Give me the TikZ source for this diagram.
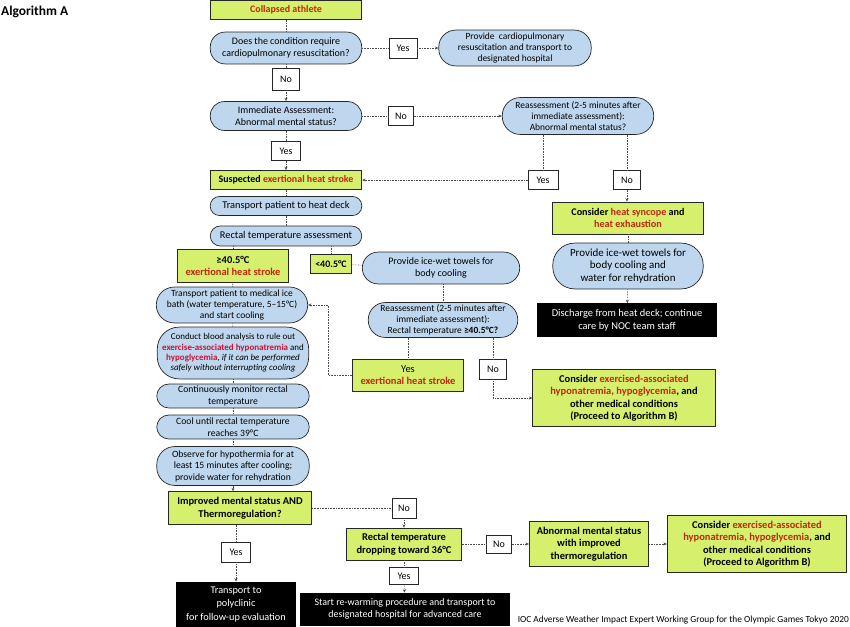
\documentclass[tikz,border=0pt]{standalone}
\usepackage{fontspec}
\setmainfont{Carlito}
\usetikzlibrary{arrows.meta}
\definecolor{limeg}{RGB}{214,240,110}
\definecolor{lblue}{RGB}{190,215,238}
\definecolor{dred}{RGB}{192,40,16}
\definecolor{cred}{RGB}{196,20,56}
\newcommand\fsz[2]{\fontsize{#1}{#2}\selectfont}
\begin{document}
\begin{tikzpicture}[x=1bp,y=-1bp,
 base/.style={draw=black!85, line width=0.7pt, inner sep=0pt, align=center, font=\fsz{10}{12}},
 gbox/.style={base, fill=limeg, font=\bfseries\fsz{10}{12}},
 bpill/.style={base, fill=lblue, rounded corners=#1},
 bpill/.default=12,
 lbl/.style={base, fill=white, minimum width=27, minimum height=20},
 blk/.style={base, fill=black, text=white, draw=black},
 conn/.style={densely dotted, black!70, line width=0.6pt},
 arr/.style={conn, -{Stealth[length=3.5pt,width=3pt]}},
]
\useasboundingbox (0,0) rectangle (850,627);
\node[font=\bfseries\fsz{13.5}{15}, anchor=west, inner sep=0pt] (title) at (1,12) {Algorithm A};

\node[gbox, minimum width=152, minimum height=19] (col) at (286,10) {\textcolor{dred}{Collapsed athlete}};
\node[bpill=15, minimum width=152, minimum height=32] (q1) at (286,48) {Does the condition require\\cardiopulmonary resuscitation?};
\node[lbl, minimum width=28] (y1) at (403,48) {Yes};
\node[bpill=17, minimum width=153, minimum height=36, font=\fsz{9.5}{11.2}] (cpr) at (515,48) {Provide\ \ cardiopulmonary\\resuscitation and transport to\\designated hospital};
\node[lbl, minimum height=22] (n1) at (286,79) {No};
\node[bpill=14, minimum width=152, minimum height=29] (ia) at (286,116) {Immediate Assessment:\\Abnormal mental status?};
\node[lbl, minimum width=25, minimum height=19] (n2) at (401,116) {No};
\node[bpill=18, minimum width=152, minimum height=37, font=\fsz{9.5}{11}] (re1) at (578,116) {Reassessment (2-5 minutes after\\immediate assessment):\\Abnormal mental status?};
\node[lbl, minimum width=29, minimum height=19] (y2) at (286,151) {Yes};
\node[gbox, minimum width=152, minimum height=19] (ehs) at (286,180) {Suspected \textcolor{dred}{exertional heat stroke}};
\node[lbl, minimum width=30, minimum height=19] (y3) at (543,180) {Yes};
\node[lbl, minimum width=27, minimum height=19] (n3) at (627,180) {No};

\node[bpill=9, minimum width=152, minimum height=19, font=\fsz{10.4}{12}] (deck) at (286,206) {Transport patient to heat deck};
\node[bpill=10, minimum width=152, minimum height=20, font=\fsz{10.4}{12}] (rect) at (286,236) {Rectal temperature assessment};
\node[gbox, minimum width=111, minimum height=33, font=\bfseries\fsz{10.5}{12.5}] (ge) at (233,266) {≥40.5°C\\\textcolor{dred}{exertional heat stroke}};
\node[gbox, minimum width=41, minimum height=19] (lt) at (331,264) {<40.5°C};
\node[bpill=16, minimum width=158, minimum height=32] (tw1) at (441,268) {Provide ice-wet towels for\\body cooling};
\node[bpill=18, minimum width=152, minimum height=36, font=\fsz{9.5}{11}] (bath) at (232,305) {Transport patient to medical ice\\bath (water temperature, 5–15°C)\\and start cooling};
\node[bpill=17, minimum width=150, minimum height=35, font=\fsz{9.5}{11}] (re2) at (443,320) {Reassessment (2-5 minutes after\\immediate assessment):\\Rectal temperature \textbf{≥40.5°C?}};
\node[bpill=22, minimum width=152, minimum height=52, font=\fsz{9}{10.4}] (blood) at (233,353) {Conduct blood analysis to rule out\\\textcolor{cred}{\textbf{exercise-associated hyponatremia}} and\\\textcolor{cred}{\textbf{hypoglycemia}}, \textit{if it can be performed}\\\textit{safely without interrupting cooling}};
\node[bpill=12, minimum width=153, minimum height=24, font=\fsz{9.7}{11.5}] (mon) at (233,396) {Continuously monitor rectal\\temperature};
\node[bpill=12, minimum width=153, minimum height=24, font=\fsz{9.7}{11.5}] (cool) at (233,427) {Cool until rectal temperature\\reaches 39°C};
\node[bpill=18, minimum width=153, minimum height=39, font=\fsz{9.7}{11.5}] (obs) at (233,466) {Observe for hypothermia for at\\least 15 minutes after cooling;\\provide water for rehydration};
\node[gbox, minimum width=112, minimum height=32, font=\bfseries\fsz{10.5}{12.5}] (y4) at (408,375) {{\mdseries Yes}\\\textcolor{dred}{exertional heat stroke}};
\node[lbl] (n4) at (493,369) {No};
\node[gbox, minimum width=183, minimum height=57, font=\bfseries\fsz{10.5}{12.5}] (con1) at (624,398) {Consider \textcolor{dred}{exercised-associated}\\\textcolor{dred}{hyponatremia, hypoglycemia}, and\\other medical conditions\\(Proceed to Algorithm B)};

\node[gbox, minimum width=151, minimum height=32, font=\bfseries\fsz{10.2}{12.5}] (hs) at (628,218) {Consider \textcolor{dred}{heat syncope} and\\\textcolor{dred}{heat exhaustion}};
\node[bpill=22, minimum width=151, minimum height=46, font=\fsz{11}{12.8}] (tw2) at (628,266) {Provide ice-wet towels for\\body cooling and\\water for rehydration};
\node[blk, minimum width=180, minimum height=33, font=\fsz{10.5}{12.8}] (dis) at (627,320) {Discharge from heat deck; continue\\care by NOC team staff};

\node[gbox, minimum width=144, minimum height=33, font=\bfseries\fsz{10.5}{12.5}] (imp) at (240,508) {Improved mental status AND\\Thermoregulation?};
\node[lbl, minimum width=24] (n5) at (404,508) {No};
\node[gbox, minimum width=115, minimum height=32, font=\bfseries\fsz{10.5}{12.5}] (rd) at (404,544) {Rectal temperature\\dropping toward 36°C};
\node[lbl, minimum width=29] (y6) at (236,552) {Yes};
\node[blk, minimum width=119, minimum height=45, font=\fsz{10.3}{13.5}] (poly) at (236,604.5) {Transport to\\polyclinic\\for follow-up evaluation};
\node[lbl, minimum width=29, minimum height=17] (y7) at (404,576) {Yes};
\node[blk, minimum width=210, minimum height=32, font=\fsz{10}{12.5}] (rew) at (405,609) {Start re-warming procedure and transport to\\designated hospital for advanced care};
\node[lbl, minimum width=25, minimum height=18] (n8) at (499,544) {No};
\node[gbox, minimum width=120, minimum height=45, font=\bfseries\fsz{10.5}{12.5}] (abn) at (589,544) {Abnormal mental status\\with improved\\thermoregulation};
\node[gbox, minimum width=180, minimum height=57, font=\bfseries\fsz{10.5}{12.5}] (con2) at (757,544) {Consider \textcolor{dred}{exercised-associated}\\\textcolor{dred}{hyponatremia, hypoglycemia}, and\\other medical conditions\\(Proceed to Algorithm B)};
\node[anchor=east, inner sep=0pt, font=\fsz{9.4}{11}] (credit) at (849,620) {IOC Adverse Weather Impact Expert Working Group for the Olympic Games Tokyo 2020};

\coordinate (k) at (328,375);

\draw[conn] (col) -- (q1);
\draw[conn] (q1) -- (y1); \draw[arr] (y1) -- (cpr);
\draw[conn] (q1) -- (n1); \draw[arr] (n1) -- (ia);
\draw[conn] (ia) -- (n2); \draw[arr] (n2) -- (re1);
\draw[conn] (ia) -- (y2); \draw[arr] (y2) -- (ehs);
\draw[conn] (re1.south -| y3) -- (y3); \draw[arr] (y3) -- (ehs);
\draw[conn] (re1.south -| n3) -- (n3); \draw[arr] (n3) -- (n3 |- hs.north);
\draw[conn] (ehs) -- (deck);
\draw[conn] (deck) -- (rect);
\draw[conn] (rect.south -| lt) -- (lt);
\draw[conn] (lt) -- (tw1);
\draw[conn] (tw1.south -| re2) -- (re2);
\draw[conn] (rect.south -| ge) -- (ge);
\draw[conn] (ge) -- (bath);
\draw[conn] (bath) -- (blood);
\draw[conn] (blood) -- (mon);
\draw[conn] (mon) -- (cool);
\draw[conn] (cool) -- (obs);
\draw[arr] (obs.south) -- (obs.south |- imp.north);
\draw[conn] (re2.south -| y4) -- (y4);
\draw[conn] (re2.south -| n4) -- (n4);
\draw[arr] (n4) |- (con1);
\draw[arr] (y4.west) -- (k) |- (bath.east);
\draw[conn] (hs) -- (tw2); \draw[arr] (tw2) -- (dis);
\draw[conn] (imp) -- (n5); \draw[arr] (n5) -- (rd);
\draw[conn] (imp.south -| y6) -- (y6); \draw[arr] (y6) -- (poly);
\draw[conn] (rd) -- (y7); \draw[arr] (y7) -- (rew);
\draw[conn] (rd) -- (n8); \draw[arr] (n8) -- (abn);
\draw[arr] (abn) -- (con2);
\end{tikzpicture}
\end{document}
